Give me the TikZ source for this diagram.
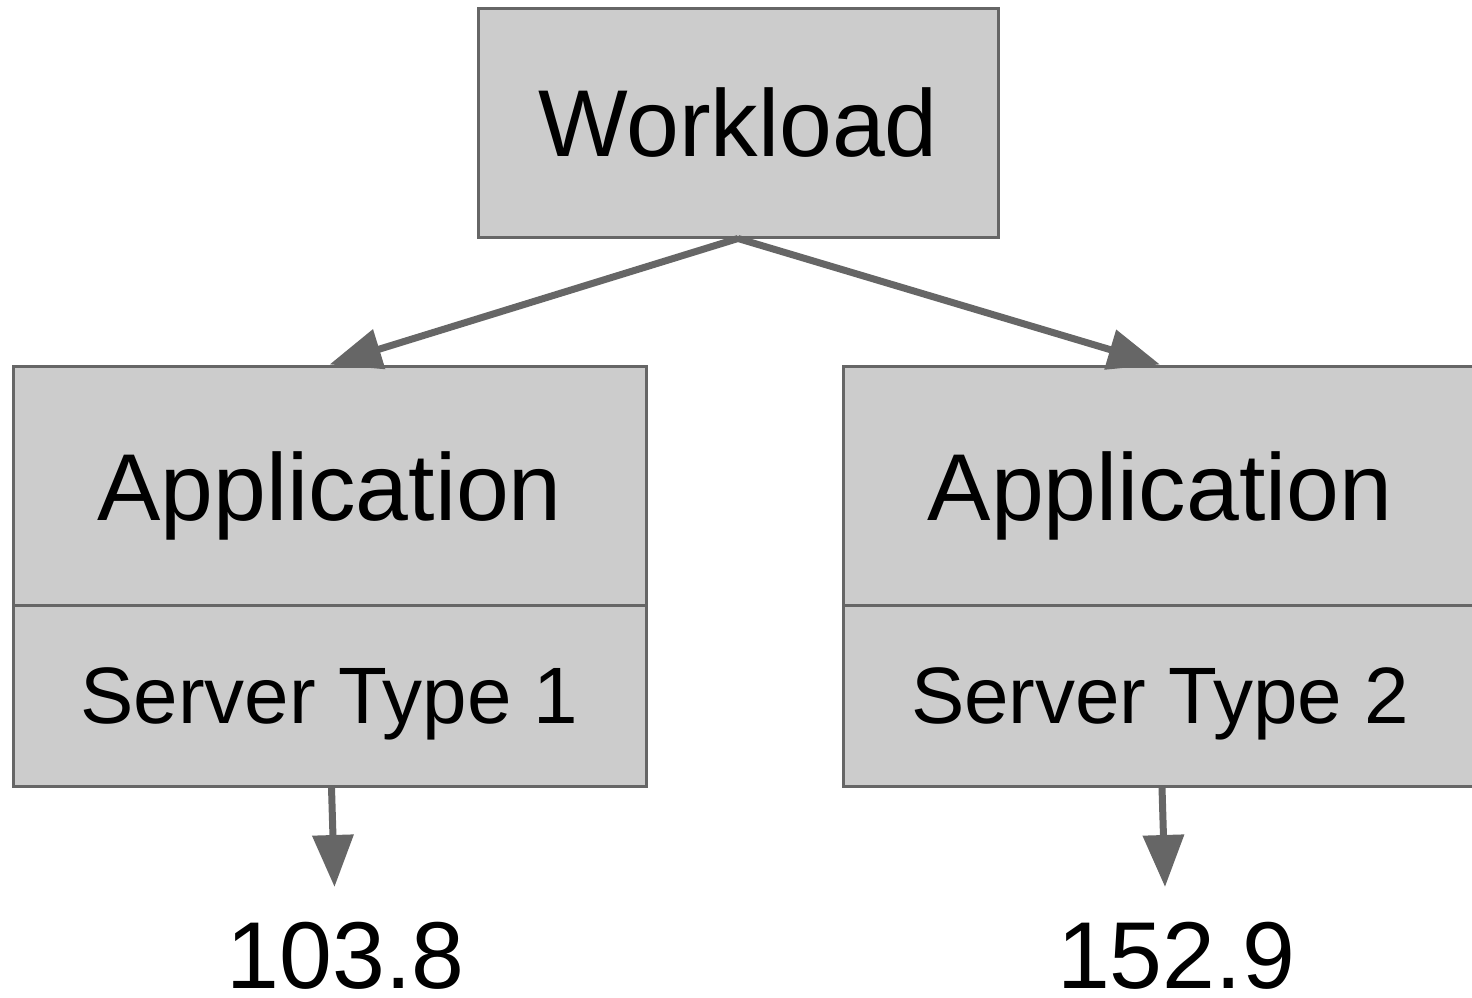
\documentclass[tikz,border=0pt]{standalone}
\usepackage{fontspec}
\setmainfont{Liberation Sans}
\usepackage{xcolor}
\usetikzlibrary{arrows.meta, shapes.multipart, trees}

\definecolor{boxgray}{HTML}{CCCCCC}
\definecolor{linegray}{HTML}{666666}
\newcommand{\bigtext}{\fontsize{95}{114}\selectfont}
\newcommand{\smalltext}{\fontsize{80}{96}\selectfont}

\begin{document}
\begin{tikzpicture}[-{Triangle[length=52pt,width=40pt]},
                    box/.style={draw=linegray, fill=boxgray, line width=3pt,
                                inner sep=0pt, text=black, font=\bigtext},
                    split/.style={box, rectangle split, rectangle split parts=2,
                                  minimum width=633pt},
                    value/.style={inner sep=0pt, outer sep=0pt, text height=101pt,
                                  text depth=0pt, text=black, font=\bigtext},
                    parent anchor=south, child anchor=north,
                    edge from parent/.style={draw=linegray, line width=7pt},
                    level 1/.style={grow via three points={one child at (0pt,-453pt)
                        and two children at (-408.5pt,-453pt) and (422pt,-453pt)}},
                    level 2/.style={grow via three points={one child at (16pt,-361.5pt)
                        and two children at (0pt,-361.5pt) and (32pt,-361.5pt)},
                        edge from parent path={([xshift=2pt]\tikzparentnode.south) --
                            ([xshift=5pt]\tikzparentnode.south |- \tikzchildnode.north)}}
                   ]
    \useasboundingbox (0,0) rectangle (1472pt,-998pt);

    \node[box, minimum width=520pt, minimum height=228pt] (workload) at (738pt,-123pt) {Workload}
        child {node[split] (app1)
            {\rule[-83.5pt]{0pt}{236pt}Application\nodepart{two}\smalltext\rule[-61.5pt]{0pt}{178pt}Server Type 1}
            child {node[value] (val1) {103.8}}
        }
        child {node[split] (app2)
            {\rule[-83.5pt]{0pt}{236pt}Application\nodepart{two}\smalltext\rule[-61.5pt]{0pt}{178pt}Server Type 2}
            child {node[value] (val2) {152.9}}
        };
\end{tikzpicture}
\end{document}
